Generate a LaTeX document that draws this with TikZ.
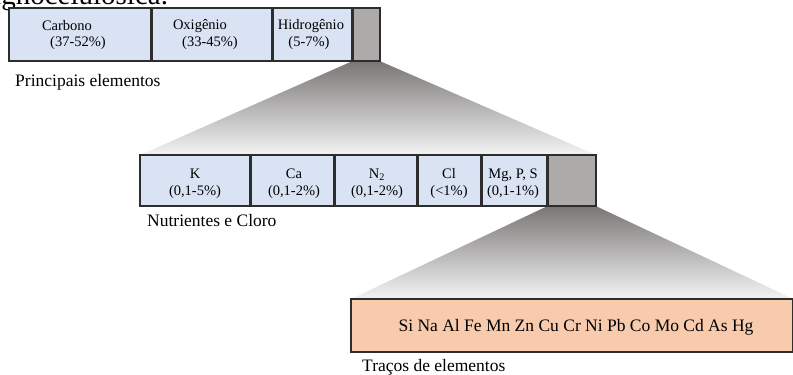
\documentclass[tikz,border=0pt]{standalone}
\usepackage{fontspec}
\setmainfont{Liberation Serif}
\definecolor{boxblue}{RGB}{218,227,243}
\definecolor{boxgrey}{RGB}{174,170,170}
\definecolor{boxorange}{RGB}{248,203,173}
\definecolor{edge}{RGB}{45,45,45}
\definecolor{shadetop}{RGB}{122,118,118}
\definecolor{shadebot}{RGB}{244,244,244}
\begin{document}
\begin{tikzpicture}[x=1pt,y=-1pt,
  cell/.style={draw=edge, line width=1.3pt, inner sep=0pt, anchor=north west},
  small/.style={font=\fontsize{14.5}{17}\selectfont, inner sep=0pt, align=center},
  caption/.style={font=\fontsize{17.5}{20}\selectfont, inner sep=0pt, anchor=base west},
  funnel/.style={top color=shadetop, bottom color=shadebot}]
\useasboundingbox (0,0) rectangle (793,375);

% partial caption line of the page above
\node[font=\fontsize{29}{32}\selectfont, inner sep=0pt, anchor=base west] (pagetext) at (-15,4) {lignocelulósica.};

% ---- top bar
\node[cell, fill=boxblue, minimum width=142pt, minimum height=52pt] (carb) at (9,8) {};
\node[cell, fill=boxblue, minimum width=121pt, minimum height=52pt] (oxi) at (151,8) {};
\node[cell, fill=boxblue, minimum width=80pt, minimum height=52pt] (hid) at (272,8) {};
\node[cell, fill=boxgrey, minimum width=27pt, minimum height=52pt] (rest1) at (352,8) {};

% ---- second bar
\node[cell, fill=boxblue, minimum width=110pt, minimum height=50pt] (k) at (140,155) {};
\node[cell, fill=boxblue, minimum width=84pt, minimum height=50pt] (ca) at (250,155) {};
\node[cell, fill=boxblue, minimum width=83pt, minimum height=50pt] (n2) at (334,155) {};
\node[cell, fill=boxblue, minimum width=64pt, minimum height=50pt] (cl) at (417,155) {};
\node[cell, fill=boxblue, minimum width=66pt, minimum height=50pt] (mg) at (481,155) {};
\node[cell, fill=boxgrey, minimum width=48pt, minimum height=50pt] (rest2) at (547,155) {};

% ---- third bar
\node[cell, fill=boxorange, minimum width=441pt, minimum height=52pt] (trace) at (351,299) {};

% ---- funnels (behind the bars)
\begin{scope}[on background layer/.try]
\end{scope}
\shade[funnel] (rest1.south west) -- (rest1.south east) -- (rest2.north east) -- (k.north west) -- cycle;
\shade[funnel] (rest2.south west) -- (rest2.south east) -- (trace.north east) -- (trace.north west) -- cycle;

% redraw bars' borders on top of funnels
\foreach \b in {carb,oxi,hid,rest1,k,ca,n2,cl,mg,rest2,trace}
  \draw[draw=edge, line width=1.3pt] (\b.north west) rectangle (\b.south east);

% ---- top texts
\node[small] (tc1) at (67,26) {Carbono};
\node[small] (tc2) at (78,43) {(37-52\%)};
\node[small] (to1) at (200,26) {Oxigênio};
\node[small] (to2) at (210,43) {(33-45\%)};
\node[small] (th1) at (311,26) {Hidrogênio};
\node[small] (th2) at (309,43) {(5-7\%)};

% ---- second texts
\node[small] (tk) at (195,183.5) {K\\(0,1-5\%)};
\node[small] (tca) at (294,183.5) {Ca\\(0,1-2\%)};
\node[small] (tn) at (377,183.5) {N\textsubscript{2}\\(0,1-2\%)};
\node[small] (tcl) at (449,183.5) {Cl\\(<1\%)};
\node[small] (tmg) at (513,183.5) {Mg, P, S\\(0,1-1\%)};

% ---- third text
\node[font=\fontsize{17.5}{20}\selectfont, inner sep=0pt] (ttr) at (576,327) {Si Na Al Fe Mn Zn Cu Cr Ni Pb Co Mo Cd As Hg};

% ---- captions
\node[caption] (cap1) at (15,86) {Principais elementos};
\node[caption] (cap2) at (147,226) {Nutrientes e Cloro};
\node[caption] (cap3) at (362,371) {Traços de elementos};
\end{tikzpicture}
\end{document}
